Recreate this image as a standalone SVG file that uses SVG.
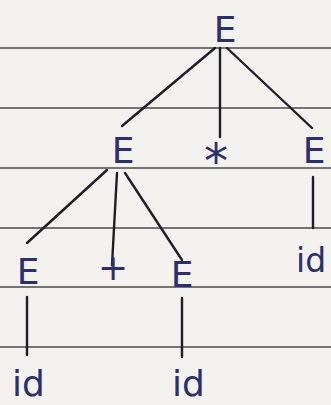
<svg xmlns="http://www.w3.org/2000/svg" width="331" height="405" viewBox="0 0 331 405">
<style>
.ink{font-family:"DejaVu Sans","Liberation Sans",sans-serif;fill:#2b2f6e;font-size:36px;text-anchor:middle}
.lab{font-family:"DejaVu Sans","Liberation Sans",sans-serif;fill:#2b2f6e;font-size:36px}
.rule{stroke:#4a4a4a;stroke-width:1.6}
.edge{stroke:#1e1e28;stroke-width:2.4;stroke-linecap:round}
</style>
<rect width="331" height="405" fill="#f3f2ef"/>
<g id="paper">
<line class="rule" x1="0" y1="48" x2="331" y2="48"/>
<line class="rule" x1="0" y1="108" x2="331" y2="108"/>
<line class="rule" x1="0" y1="168" x2="331" y2="168"/>
<line class="rule" x1="0" y1="228" x2="331" y2="228"/>
<line class="rule" x1="0" y1="287" x2="331" y2="287"/>
<line class="rule" x1="0" y1="347" x2="331" y2="347"/>
</g>
<g id="connectors">
<line class="edge" x1="215" y1="48" x2="122" y2="126"/>
<line class="edge" x1="220" y1="48" x2="220" y2="137"/>
<line class="edge" x1="227" y1="48" x2="312" y2="128"/>
<line class="edge" x1="107" y1="170" x2="27" y2="243"/>
<line class="edge" x1="117" y1="173" x2="112" y2="265"/>
<line class="edge" x1="125" y1="173" x2="182" y2="260"/>
<line class="edge" x1="313" y1="177" x2="313" y2="228"/>
<line class="edge" x1="27" y1="297" x2="27" y2="355"/>
<line class="edge" x1="182" y1="298" x2="182" y2="357"/>
</g>
<g id="n-root"><text class="ink" x="225" y="42">E</text></g>
<g id="n-E1"><text class="ink" x="123" y="163">E</text></g>
<g id="n-star"><text class="ink" x="216" y="178" style="font-size:48px">*</text></g>
<g id="n-E2"><text class="ink" x="314" y="163">E</text></g>
<g id="n-id3"><text class="lab" x="296" y="272" style="font-size:33px">id</text></g>
<g id="n-E3"><text class="ink" x="28" y="284">E</text></g>
<g id="n-plus"><text class="ink" x="113" y="280">+</text></g>
<g id="n-E4"><text class="ink" x="182" y="287">E</text></g>
<g id="n-id1"><text class="lab" x="12" y="396">id</text></g>
<g id="n-id2"><text class="lab" x="172" y="396">id</text></g>
</svg>
